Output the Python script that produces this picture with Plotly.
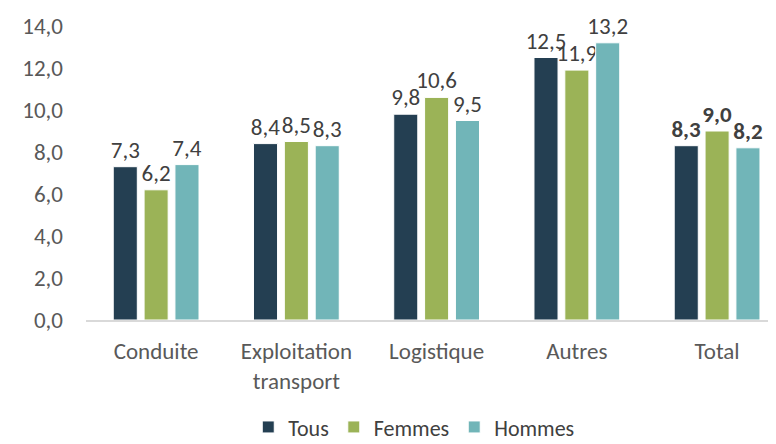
import plotly.graph_objects as go

categories = ["Conduite", "Exploitation<br>transport", "Logistique", "Autres", "Total"]
tous = [7.3, 8.4, 9.8, 12.5, 8.3]
femmes = [6.2, 8.5, 10.6, 11.9, 9.0]
hommes = [7.4, 8.3, 9.5, 13.2, 8.2]
series_names = ["Tous", "Femmes", "Hommes"]
colors = ["#243F52", "#9BB357", "#71B5B8"]

font_family = "Carlito, Lato, 'Noto Sans', sans-serif"
tmpl = ["%{y:.1f}"] * 4 + ["<b>%{y:.1f}</b>"]

fig = go.Figure()
for name, vals, col in zip(series_names, [tous, femmes, hommes], colors):
    fig.add_trace(go.Bar(
        x=categories, y=vals, name=name,
        marker=dict(color=col, line=dict(color="white", width=1)),
        texttemplate=tmpl, textposition="outside", cliponaxis=False,
        textfont=dict(size=23, color="#404040", family=font_family),
        hoverinfo="skip",
    ))

# page has an 8px body margin: figure is sized/offset to compensate
fig.update_layout(
    width=768, height=436,
    margin=dict(l=78, r=0, t=18, b=124, autoexpand=False),
    paper_bgcolor="white", plot_bgcolor="white",
    separators=", ",
    barmode="group", bargap=0.34, bargroupgap=0.22,
    font=dict(family=font_family, size=23, color="#595959"),
    showlegend=True,
    legend=dict(orientation="h", x=0.475, xanchor="center", y=-0.293, yanchor="top",
                font=dict(size=22, color="#404040"), itemwidth=30, traceorder="normal"),
    uniformtext=dict(mode="show", minsize=23),
)
fig.update_xaxes(range=[-0.5, 4.42], showline=True, linecolor="#D9D9D9", linewidth=1.5,
                 ticks="", showgrid=False, automargin=False, ticklabelstandoff=10,
                 tickfont=dict(size=23, color="#595959"))
fig.update_yaxes(range=[0, 14], dtick=2, tickformat=".1f", showgrid=False, zeroline=False,
                 showline=False, ticks="", ticklabelstandoff=22, automargin=False,
                 tickfont=dict(size=23, color="#595959"))

fig.write_html("out.html")
